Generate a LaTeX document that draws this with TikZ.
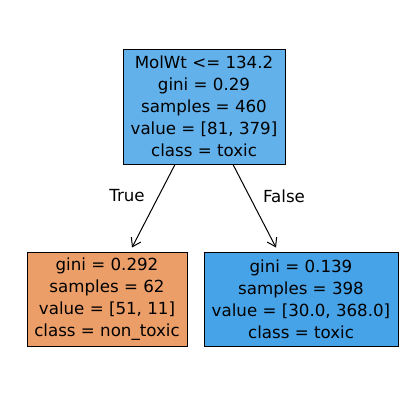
\documentclass[tikz,border=0pt]{standalone}
\usepackage{fontspec}
\setmainfont{DejaVu Sans}
\definecolor{dtRoot}{RGB}{99,177,235}
\definecolor{dtToxic}{RGB}{71,163,231}
\definecolor{dtNonToxic}{RGB}{236,158,104}
\usetikzlibrary{arrows.meta,positioning}

\begin{document}
\begin{tikzpicture}[x=0.75pt, y=-0.75pt,
    treenode/.style={draw=black, line width=0.75pt, align=center, inner sep=0pt,
        font=\fontsize{12.5}{16.5}\selectfont},
    edge/.style={-{Straight Barb[length=6pt,width=8pt]}, line width=0.75pt},
    edgelabel/.style={font=\fontsize{12.5}{15}\selectfont}]
    \useasboundingbox (0,0) rectangle (407,405);

    \node[treenode, fill=dtRoot, minimum width=121.5pt, minimum height=86.25pt] (root) at (204,106.5)
        {MolWt <= 134.2\\gini = 0.29\\samples = 460\\value = [81, 379]\\class = toxic};

    \node[treenode, fill=dtNonToxic, minimum width=120pt, minimum height=70.5pt] (left) at (107,299)
        {gini = 0.292\\samples = 62\\value = [51, 11]\\class = non\_toxic};

    \node[treenode, fill=dtToxic, minimum width=145.5pt, minimum height=70.5pt] (right) at (301,299)
        {gini = 0.139\\samples = 398\\value = [30.0, 368.0]\\class = toxic};

    \draw[edge] ([xshift=-21.75pt]root.south) -- ([xshift=18.75pt, yshift=3pt]left.north);
    \draw[edge] ([xshift=21.75pt]root.south) -- ([xshift=-18.75pt, yshift=3pt]right.north);

    \node[edgelabel] (truelbl) at (127,196) {True};
    \node[edgelabel] (falselbl) at (284,196) {False};
\end{tikzpicture}
\end{document}
